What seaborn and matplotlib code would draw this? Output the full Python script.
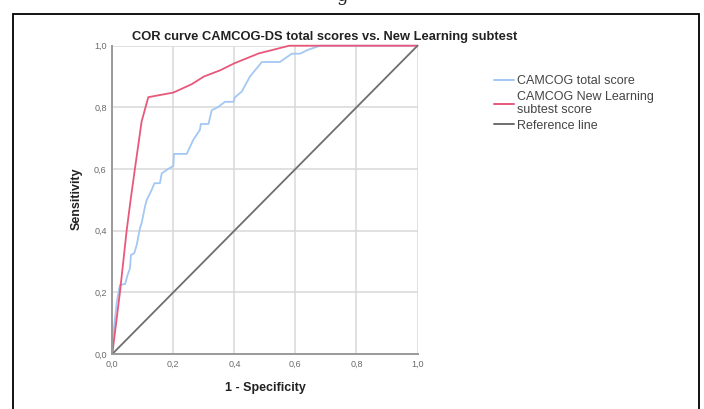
import matplotlib
matplotlib.use("Agg")
import matplotlib.pyplot as plt
import matplotlib.patches as mpatches
import pandas as pd
import seaborn as sns

# ROC coordinates (1 - specificity, sensitivity)
total_fpr = [0.0, 0.005, 0.015, 0.025, 0.042, 0.05, 0.058, 0.061, 0.072, 0.08, 0.091, 0.096,
             0.107, 0.113, 0.129, 0.138, 0.156, 0.162, 0.178, 0.2, 0.202, 0.244, 0.265,
             0.287, 0.29, 0.315, 0.326, 0.345, 0.369, 0.397, 0.402, 0.424, 0.451, 0.49,
             0.549, 0.588, 0.615, 0.642, 0.675, 0.68, 1.0]
total_tpr = [0.0, 0.08, 0.17, 0.224, 0.227, 0.256, 0.278, 0.321, 0.327, 0.354, 0.41, 0.424,
             0.478, 0.5, 0.532, 0.554, 0.554, 0.586, 0.597, 0.61, 0.649, 0.649, 0.694,
             0.727, 0.746, 0.746, 0.791, 0.8, 0.818, 0.818, 0.833, 0.851, 0.9, 0.947,
             0.947, 0.974, 0.974, 0.987, 0.998, 1.0, 1.0]

learning_fpr = [0.0, 0.01, 0.025, 0.047, 0.06, 0.074, 0.096, 0.118, 0.2, 0.26, 0.3, 0.353,
                0.4, 0.48, 0.58, 1.0]
learning_tpr = [0.0, 0.08, 0.2, 0.4, 0.5, 0.6, 0.754, 0.833, 0.848, 0.875, 0.9, 0.92,
                0.943, 0.975, 1.0, 1.0]

reference_fpr = [0.0, 1.0]
reference_tpr = [0.0, 1.0]

series_names = ["CAMCOG total score", "CAMCOG New Learning\nsubtest score", "Reference line"]
series_colors = ["#a3c8f2", "#e8587a", "#6e6e6e"]
tick_values = [0.0, 0.2, 0.4, 0.6, 0.8, 1.0]
tick_labels = ["0,0", "0,2", "0,4", "0,6", "0,8", "1,0"]

frames = []
for name, fx, fy in zip(series_names,
                        [total_fpr, learning_fpr, reference_fpr],
                        [total_tpr, learning_tpr, reference_tpr]):
    frames.append(pd.DataFrame({"fpr": fx, "tpr": fy, "series": name}))
data = pd.concat(frames, ignore_index=True)

sns.set_style("white")
plt.rcParams["font.family"] = ["Liberation Sans", "DejaVu Sans"]

W, H = 704, 409
fig = plt.figure(figsize=(W / 100, H / 100), dpi=100)
ax = fig.add_axes([112.3 / W, 1 - 354 / H, 305.2 / W, 308.3 / H])

ax.set_xlim(0, 1)
ax.set_ylim(0, 1)
ax.set_xticks(tick_values)
ax.set_xticklabels(tick_labels)
ax.set_yticks(tick_values)
ax.set_yticklabels(tick_labels)
ax.grid(True, color="#d8d8d8", linewidth=1.1)
ax.set_axisbelow(True)
ax.tick_params(axis="both", length=0, labelsize=6.5, labelcolor="#6a6a6a", pad=4)
for side in ["top", "right"]:
    ax.spines[side].set_visible(False)
for side in ["left", "bottom"]:
    ax.spines[side].set_color("#9a9a9a")
    ax.spines[side].set_linewidth(1.4)

sns.lineplot(data=data, x="fpr", y="tpr", hue="series", hue_order=series_names,
             palette=series_colors, sort=False, estimator=None,
             ax=ax, linewidth=1.3, legend=False)
for line in ax.lines:
    line.set_clip_on(False)

ax.set_xlabel("")
ax.set_ylabel("")

handles = [plt.Line2D([], [], color=c, linewidth=1.4) for c in series_colors]
fig.legend(handles, series_names, loc="upper left",
           bbox_to_anchor=(494 / W, 1 - 75.5 / H), frameon=False,
           fontsize=9, handlelength=1.6, handletextpad=0.25,
           labelspacing=0.25, labelcolor="#444444", borderaxespad=0,
           borderpad=0)

fig.text(325 / W, 1 - 37 / H,
         "COR curve CAMCOG-DS total scores vs. New Learning subtest",
         ha="center", va="center", fontsize=9.3, fontweight="bold", color="#222222")
fig.text(265 / W, 1 - 388 / H, "1 - Specificity", ha="center", va="center",
         fontsize=9, fontweight="bold", color="#222222")
fig.text(77 / W, 1 - 199 / H, "Sensitivity", ha="center", va="center",
         rotation=90, fontsize=9, fontweight="bold", color="#222222")

# caption fragment peeking in at the top edge
fig.text(342 / W, 1 - 1 / H, "g", ha="center", va="baseline",
         fontsize=13, family="DejaVu Serif", color="#222222")

# page frame around the figure
fig.patches.append(mpatches.Rectangle((13 / W, -0.05), 686 / W, 1.05 - 14 / H,
                                      transform=fig.transFigure, fill=False,
                                      edgecolor="black", linewidth=1.3))

fig.savefig("out.png", dpi=100)
